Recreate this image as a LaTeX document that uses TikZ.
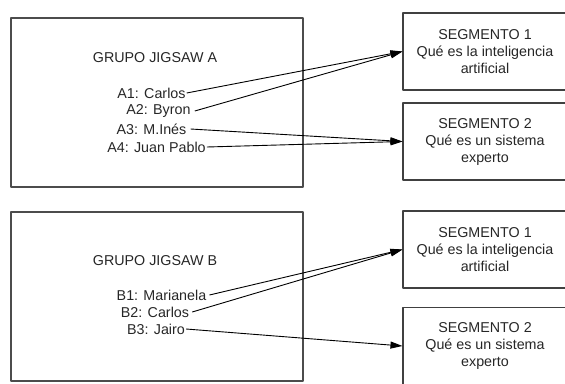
\documentclass[tikz,border=0pt]{standalone}
\usepackage{fontspec}
\setmainfont{Liberation Sans}
\usetikzlibrary{arrows.meta}
\begin{document}
\begin{tikzpicture}[x=1pt, y=-1pt, line join=round, >={Triangle[length=12pt,width=7pt]},
    font=\fontsize{14.3}{17}\selectfont, text=black!85,
    grupo/.style={draw=black!70, line width=1.1pt, minimum width=292pt, minimum height=169pt},
    segmento/.style={draw=black!75, line width=1.1pt, minimum width=164pt, minimum height=77pt, align=center},
    miembro/.style={inner sep=1pt}]
    \useasboundingbox (0,0) rectangle (565,383);
    % grupo A
    \node[grupo] (grupoA) at (157,102.5) {};
    \node (tituloA) at (155,58) {GRUPO JIGSAW A};
    \node[miembro] (a1) at (151.5,93) {A1: Carlos};
    \node[miembro] (a2) at (158.5,111) {A2: Byron};
    \node[miembro] (a3) at (151.5,129) {A3: M.Inés};
    \node[miembro] (a4) at (156.5,147) {A4: Juan Pablo};
    \node[segmento] (segA1) at (485,51.5) {SEGMENTO 1\\Qué es la inteligencia\\artificial};
    \node[segmento] (segA2) at (485,141.5) {SEGMENTO 2\\Qué es un sistema\\experto};
    % grupo B
    \node[grupo] (grupoB) at (157,296.5) {};
    \node (tituloB) at (155,261) {GRUPO JIGSAW B};
    \node[miembro] (b1) at (161.5,295) {B1: Marianela};
    \node[miembro] (b2) at (155,312) {B2: Carlos};
    \node[miembro] (b3) at (156,329) {B3: Jairo};
    \node[segmento] (segB1) at (485,249.5) {SEGMENTO 1\\Qué es la inteligencia\\artificial};
    \node[segmento] (segB2) at (485,346) {SEGMENTO 2\\Qué es un sistema\\experto};
    % flechas
    \draw[->, line width=0.9pt] (a1.east) -- (segA1.west);
    \draw[->, line width=0.9pt] ([xshift=3pt]a2.east) -- (segA1.west);
    \draw[->, line width=0.9pt] ([xshift=3pt]a3.east) -- (segA2.west);
    \draw[->, line width=0.9pt] (a4.east) -- (segA2.west);
    \draw[->, line width=0.9pt] ([xshift=2pt]b1.east) -- (segB1.west);
    \draw[->, line width=0.9pt] ([xshift=2pt]b2.east) -- (segB1.west);
    \draw[->, line width=0.9pt] (b3.east) -- (segB2.west);
\end{tikzpicture}
\end{document}
